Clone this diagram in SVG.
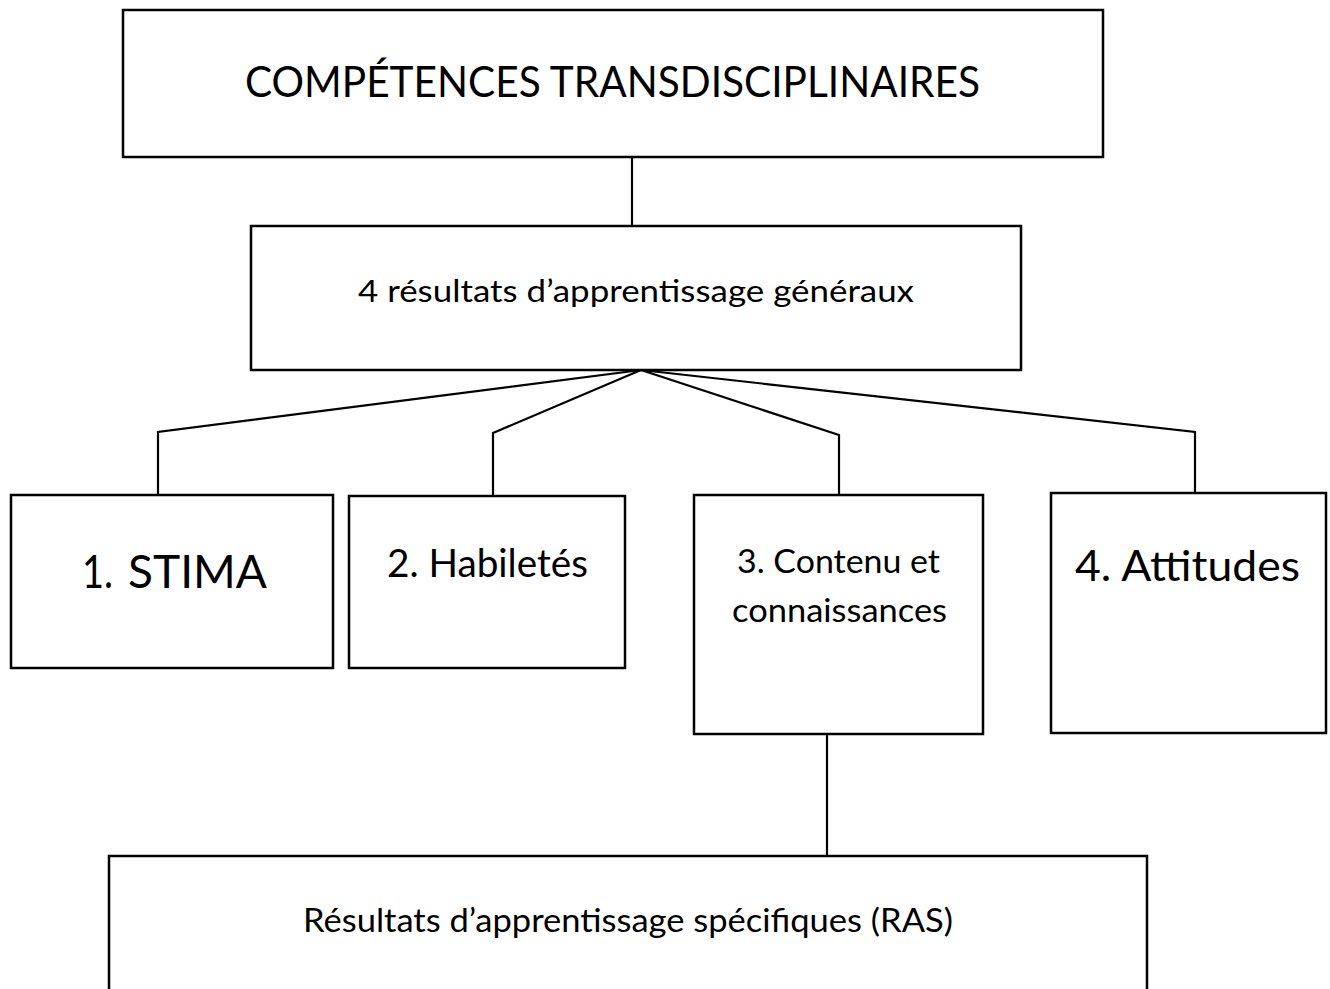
<svg xmlns="http://www.w3.org/2000/svg" width="1330" height="989" viewBox="0 0 1330 989">
<style>
.box{fill:#fff;stroke:#000;stroke-width:2.5}
.conn{fill:none;stroke:#000;stroke-width:2.2;stroke-linejoin:miter}
text{font-family:Lato,"Open Sans","Liberation Sans",sans-serif;fill:#000}
</style>
<rect width="1330" height="989" fill="#fff"/>
<g id="connectors">
<path class="conn" d="M632 157V226"/>
<path class="conn" d="M641 370L158 432V495"/>
<path class="conn" d="M641 370L493 433V496"/>
<path class="conn" d="M641 370L839 435V495"/>
<path class="conn" d="M641 370L1195 432V493"/>
<path class="conn" d="M827 734V856"/>
</g>
<g id="competences">
<rect class="box" x="123" y="10" width="980" height="147"/>
<text x="245" y="97" font-size="43" textLength="735" lengthAdjust="spacingAndGlyphs">COMPÉTENCES TRANSDISCIPLINAIRES</text>
</g>
<g id="rag">
<rect class="box" x="251" y="226" width="770" height="144"/>
<text x="358" y="302" font-size="30" textLength="556" lengthAdjust="spacingAndGlyphs">4 résultats d’apprentissage généraux</text>
</g>
<g id="stima">
<rect class="box" x="11" y="495" width="322" height="173"/>
<text x="82" y="588" font-size="47" textLength="31" lengthAdjust="spacingAndGlyphs">1.</text>
<text x="128" y="588" font-size="47" textLength="139" lengthAdjust="spacingAndGlyphs">STIMA</text>
</g>
<g id="habiletes">
<rect class="box" x="349" y="496" width="276" height="172"/>
<text x="387" y="577" font-size="38" textLength="201" lengthAdjust="spacingAndGlyphs">2. Habiletés</text>
</g>
<g id="contenu">
<rect class="box" x="694" y="495" width="289" height="239"/>
<text x="737" y="573" font-size="32" textLength="203" lengthAdjust="spacingAndGlyphs">3. Contenu et</text>
<text x="732" y="622" font-size="32" textLength="215" lengthAdjust="spacingAndGlyphs">connaissances</text>
</g>
<g id="attitudes">
<rect class="box" x="1051" y="493" width="275" height="240"/>
<text x="1075" y="581" font-size="43" textLength="225" lengthAdjust="spacingAndGlyphs">4. Attitudes</text>
</g>
<g id="ras">
<rect class="box" x="109" y="856" width="1038" height="145"/>
<text x="303" y="932" font-size="33" textLength="650" lengthAdjust="spacingAndGlyphs">Résultats d’apprentissage spécifiques (RAS)</text>
</g>
</svg>
